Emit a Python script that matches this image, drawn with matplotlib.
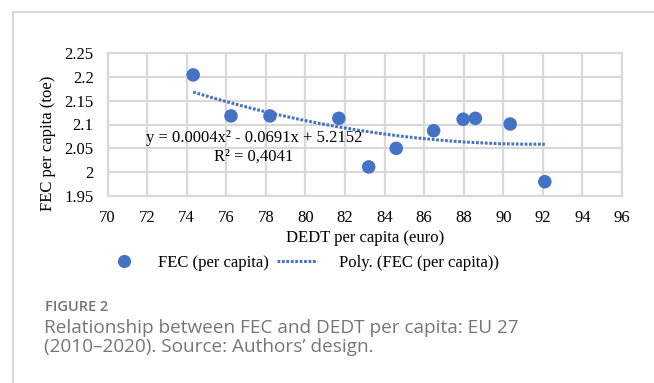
import numpy as np
import matplotlib
matplotlib.use('Agg')
import matplotlib.pyplot as plt
from matplotlib.lines import Line2D

# DEDT vs FEC per capita, EU 27, 2010-2020
dedt = [74.33, 76.24, 78.21, 81.69, 83.20, 84.59, 86.48, 87.97, 88.59, 90.35, 92.10]
fec = [2.204, 2.118, 2.118, 2.113, 2.011, 2.050, 2.087, 2.111, 2.113, 2.101, 1.980]

x_ticks = np.arange(70, 97, 2)
y_ticks = [1.95, 2.0, 2.05, 2.1, 2.15, 2.2, 2.25]
y_tick_labels = ['1.95', '2', '2.05', '2.1', '2.15', '2.2', '2.25']

eq_text = 'y = 0.0004x\u00b2 - 0.0691x + 5.2152'
r2_text = 'R\u00b2 = 0,4041'

BLUE = '#4472C4'
GRID = '#d9d9d9'
SERIF = 'Liberation Serif'
FS = 12
DOTS = (0, (0.9, 0.55))

W, H = 654, 383
fig = plt.figure(figsize=(W / 100, H / 100), dpi=100)


def fx(px):
    return px / W


def fy(py):
    return 1 - py / H


# outer frame (top and left rules)
fig.add_artist(Line2D([fx(13), 1], [fy(12), fy(12)], color='#d2d2d2', lw=1.2))
fig.add_artist(Line2D([fx(13), fx(13)], [fy(12), 0], color='#d2d2d2', lw=1.2))

ax = fig.add_axes([fx(107.5), fy(196), fx(622) - fx(107.5), fy(53) - fy(196)])
ax.set_xlim(70, 96)
ax.set_ylim(1.95, 2.25)
ax.set_xticks(x_ticks)
ax.set_yticks(y_ticks)
ax.set_yticklabels(y_tick_labels)
ax.grid(True, color=GRID, lw=1.6)
ax.set_axisbelow(True)
for s in ax.spines.values():
    s.set_color(GRID)
    s.set_linewidth(1.6)
ax.tick_params(length=0, pad=10, labelsize=FS)
for lab in ax.get_xticklabels() + ax.get_yticklabels():
    lab.set_fontfamily(SERIF)

# 2nd order polynomial trendline
coef = np.polyfit(dedt, fec, 2)
xs = np.linspace(min(dedt), max(dedt), 200)
ax.plot(xs, np.polyval(coef, xs), color=BLUE, lw=2.2,
        linestyle=DOTS, dash_capstyle='butt', zorder=2)
ax.scatter(dedt, fec, s=95, color=BLUE, edgecolors='none', zorder=3)

ax.text(77.4, 2.072, eq_text, ha='center', va='center', fontsize=FS, family=SERIF)
ax.text(77.4, 2.032, r2_text, ha='center', va='center', fontsize=FS, family=SERIF)

ax.set_xlabel('DEDT per capita (euro)', fontsize=FS, family=SERIF, labelpad=3)
ax.set_ylabel('FEC per capita (toe)', fontsize=FS, family=SERIF, va='center')
ax.yaxis.set_label_coords(-0.115, 0.37)

# legend: two entries laid out separately to keep the spacing
leg_kw = dict(loc='center left', frameon=False, borderpad=0, borderaxespad=0,
              prop={'family': SERIF, 'size': FS})
leg1 = fig.legend([Line2D([], [], marker='o', color=BLUE, ls='none',
                          markersize=9.5, markeredgewidth=0)],
                  ['FEC (per capita)'], bbox_to_anchor=(fx(107.5), fy(263)),
                  handlelength=2.0, handletextpad=1.0, **leg_kw)
leg2 = fig.legend([Line2D([], [], color=BLUE, lw=2.2, linestyle=DOTS,
                          dash_capstyle='butt')],
                  ['Poly. (FEC (per capita))'], bbox_to_anchor=(fx(277), fy(263)),
                  handlelength=2.4, handletextpad=1.3, **leg_kw)

fig.text(fx(45), fy(307), 'FIGURE 2', fontsize=10.5, color='#747474',
         family='Open Sans', fontweight='semibold', va='center')
fig.text(fx(44), fy(337.5), 'Relationship between FEC and DEDT per capita: EU 27\n'
         '(2010\u20132020). Source: Authors\u2019 design.', fontsize=13.7,
         color='#767676', family='Open Sans', va='center', linespacing=1.1)

fig.savefig('out.png', dpi=100)
